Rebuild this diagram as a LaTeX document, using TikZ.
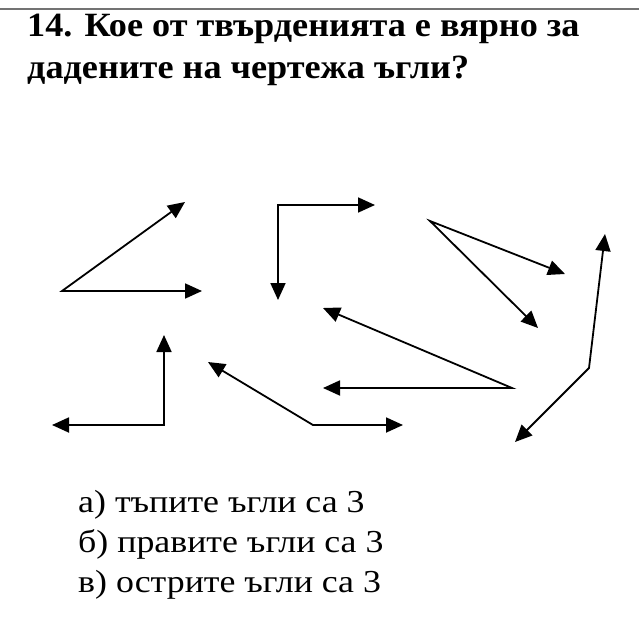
\documentclass[tikz,border=0pt]{standalone}
\usepackage{fontspec}
\setmainfont{Liberation Serif}
\usetikzlibrary{arrows.meta}
\newcommand{\widetitle}[1]{\scalebox{1.065}[1]{#1}}
\newcommand{\wideanswer}[1]{\scalebox{1.12}[1]{#1}}
\tikzstyle{ray} = [line width=1.8pt,
<->, >={Triangle[length=17pt,width=15pt]}]
\tikzstyle{rule} = [line width=2pt, draw=black!55]
\tikzstyle{title} = [anchor=base west, inner sep=0pt,
font=\bfseries\fontsize{34}{41}\selectfont]
\tikzstyle{answer} = [anchor=base west, inner sep=0pt,
font=\fontsize{32}{40}\selectfont]

\begin{document}
\begin{tikzpicture}[x=1pt, y=-1pt]
    \useasboundingbox (0,0) rectangle (639,618);
    \coordinate (ruleL) at (0,9);
    \coordinate (ruleR) at (639,9);
    \draw [rule] (ruleL) -- (ruleR);

    \node (title1) [title] at (27,37) {\widetitle{14. Кое от твърденията е вярно за}};
    \node (title2) [title] at (27,78) {\widetitle{дадените на чертежа ъгли?}};

    % vertices and ray tips
    \coordinate (v1) at (62,291);  \coordinate (a1) at (185,202); \coordinate (b1) at (202,291);
    \coordinate (v2) at (278,205); \coordinate (a2) at (278,300); \coordinate (b2) at (375,205);
    \coordinate (v3) at (430,221); \coordinate (a3) at (565,274); \coordinate (b3) at (538,328);
    \coordinate (v4) at (512,388); \coordinate (a4) at (323,308); \coordinate (b4) at (323,388);
    \coordinate (v5) at (589,368); \coordinate (a5) at (605,234); \coordinate (b5) at (515,442);
    \coordinate (v6) at (164,425); \coordinate (a6) at (164,335); \coordinate (b6) at (52,425);
    \coordinate (v7) at (313,425); \coordinate (a7) at (208,362); \coordinate (b7) at (403,425);

    \draw [ray] (a1) -- (v1) -- (b1);
    \draw [ray] (a2) -- (v2) -- (b2);
    \draw [ray] (a3) -- (v3) -- (b3);
    \draw [ray] (a4) -- (v4) -- (b4);
    \draw [ray] (a5) -- (v5) -- (b5);
    \draw [ray] (a6) -- (v6) -- (b6);
    \draw [ray] (a7) -- (v7) -- (b7);

    \node (ansA) [answer] at (78,512) {\wideanswer{а) тъпите ъгли са 3}};
    \node (ansB) [answer] at (78,552) {\wideanswer{б) правите ъгли са 3}};
    \node (ansC) [answer] at (78,592) {\wideanswer{в) острите ъгли са 3}};
\end{tikzpicture}
\end{document}
